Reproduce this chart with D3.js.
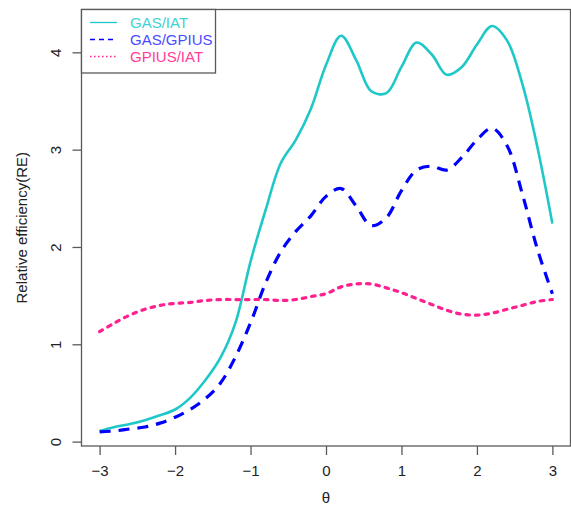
<!DOCTYPE html>
<html>
<head>
<meta charset="utf-8">
<script src="https://cdn.jsdelivr.net/npm/d3@7"></script>
<style>
  body { margin: 0; background: #fff; }
  svg { display: block; font-family: "Liberation Sans", Arial, sans-serif; }
</style>
</head>
<body>
<svg id="chart" width="571" height="513"></svg>
<script>
// theta grid, step 0.2
var theta = [-3, -2.8, -2.6, -2.4, -2.2, -2, -1.8, -1.6, -1.4, -1.2, -1, -0.8, -0.6, -0.4, -0.2,
             0, 0.2, 0.4, 0.6, 0.8, 1, 1.2, 1.4, 1.6, 1.8, 2, 2.2, 2.4, 2.6, 2.8, 3];

var gasIat = [0.11, 0.15, 0.18, 0.22, 0.27, 0.33, 0.45, 0.63, 0.86, 1.22, 1.85, 2.38, 2.86, 3.10, 3.42,
              3.87, 4.17, 3.92, 3.60, 3.58, 3.85, 4.10, 3.98, 3.77, 3.85, 4.08, 4.27, 4.12, 3.68, 3.03, 2.24];

var gasGpius = [0.10, 0.11, 0.13, 0.15, 0.19, 0.25, 0.33, 0.44, 0.60, 0.87, 1.22, 1.63, 1.95, 2.16, 2.32,
                2.52, 2.60, 2.42, 2.22, 2.30, 2.58, 2.79, 2.83, 2.79, 2.92, 3.10, 3.22, 3.04, 2.55, 1.98, 1.52];

var gpiusIat = [1.13, 1.22, 1.30, 1.36, 1.40, 1.42, 1.43, 1.45, 1.46, 1.46, 1.46, 1.46, 1.45, 1.46, 1.49,
                1.52, 1.59, 1.62, 1.62, 1.58, 1.53, 1.47, 1.41, 1.35, 1.31, 1.30, 1.32, 1.36, 1.40, 1.44, 1.46];

var xTicks = [-3, -2, -1, 0, 1, 2, 3];
var yTicks = [0, 1, 2, 3, 4];

var seriesNames = ["GAS/IAT", "GAS/GPIUS", "GPIUS/IAT"];
var seriesColors = ["#1fc8c8", "#0000ff", "#ff1f8f"];
var legendTextColors = ["#3fd2d2", "#4b4bff", "#ff3d99"];

var series = [gasIat, gasGpius, gpiusIat];
var lineWidth = [2.6, 3.2, 3.2];
var lineDash = [null, "11,8", "3.5,6"];
var legendDash = [null, "5,4", "1.5,2.5"];

var svg = d3.select("#chart");
var plotLeft = 81.5, plotRight = 570.5, plotTop = 9.5, plotBottom = 446;

var x = d3.scaleLinear().domain([-3.24, 3.24]).range([plotLeft, plotRight]);
var y = d3.scaleLinear().domain([-0.045, 4.44]).range([plotBottom, plotTop]);

var axisColor = "#5a5a5a";

// curves
var line = d3.line()
    .x(function (d) { return x(d[0]); })
    .y(function (d) { return y(d[1]); })
    .curve(d3.curveCatmullRom.alpha(0.5));

series.forEach(function (vals, i) {
    var pts = theta.map(function (t, k) { return [t, vals[k]]; });
    svg.append("path")
        .attr("d", line(pts))
        .attr("fill", "none")
        .attr("stroke", seriesColors[i])
        .attr("stroke-width", lineWidth[i])
        .attr("stroke-dasharray", lineDash[i])
        .attr("stroke-linecap", i == 2 ? "round" : "butt");
});

// box
svg.append("rect")
    .attr("x", plotLeft)
    .attr("y", plotTop)
    .attr("width", plotRight - plotLeft)
    .attr("height", plotBottom - plotTop)
    .attr("fill", "none")
    .attr("stroke", axisColor)
    .attr("stroke-width", 1.3);

// x axis ticks
var xAxis = d3.axisBottom(x).tickValues(xTicks).tickFormat(d3.format("d"))
    .tickSizeOuter(0).tickSize(9).tickPadding(10);
var gx = svg.append("g").attr("transform", "translate(0," + plotBottom + ")").call(xAxis);
gx.select(".domain").remove();
gx.selectAll("line").attr("stroke", axisColor).attr("stroke-width", 1.3);
gx.selectAll("text").attr("font-size", 15).attr("fill", "#222")
    .attr("font-family", "Liberation Sans, Arial, sans-serif");

// y axis ticks, labels rotated like R
var yAxis = d3.axisLeft(y).tickValues(yTicks).tickFormat(d3.format("d"))
    .tickSizeOuter(0).tickSize(9).tickPadding(0);
var gy = svg.append("g").attr("transform", "translate(" + plotLeft + ",0)").call(yAxis);
gy.select(".domain").remove();
gy.selectAll("line").attr("stroke", axisColor).attr("stroke-width", 1.3);
gy.selectAll("text")
    .attr("x", 0)
    .attr("text-anchor", "middle")
    .attr("transform", "translate(-26,0) rotate(-90)")
    .attr("dy", "0.35em")
    .attr("font-size", 15).attr("fill", "#222")
    .attr("font-family", "Liberation Sans, Arial, sans-serif");

// axis titles
svg.append("text")
    .text("\u03b8")
    .attr("x", x(0))
    .attr("y", 503)
    .attr("text-anchor", "middle")
    .attr("font-size", 15)
    .attr("fill", "#222");

svg.append("text")
    .text("Relative efficiency(RE)")
    .attr("transform", "translate(27," + (plotTop + plotBottom) / 2 + ") rotate(-90)")
    .attr("text-anchor", "middle")
    .attr("font-size", 15)
    .attr("fill", "#222");

// legend
var lg = svg.append("g");
lg.append("rect")
    .attr("x", plotLeft)
    .attr("y", plotTop)
    .attr("width", 134)
    .attr("height", 63.5)
    .attr("fill", "#fff")
    .attr("stroke", axisColor)
    .attr("stroke-width", 1.3);

seriesNames.forEach(function (name, i) {
    var ly = 22.5 + i * 17;
    lg.append("line")
        .attr("x1", 90).attr("x2", 117)
        .attr("y1", ly).attr("y2", ly)
        .attr("stroke", seriesColors[i])
        .attr("stroke-width", 1.3)
        .attr("stroke-dasharray", legendDash[i]);
    lg.append("text")
        .text(name)
        .attr("x", 130)
        .attr("y", ly)
        .attr("dy", "0.35em")
        .attr("font-size", 15)
        .attr("fill", legendTextColors[i]);
});
</script>
</body>
</html>
